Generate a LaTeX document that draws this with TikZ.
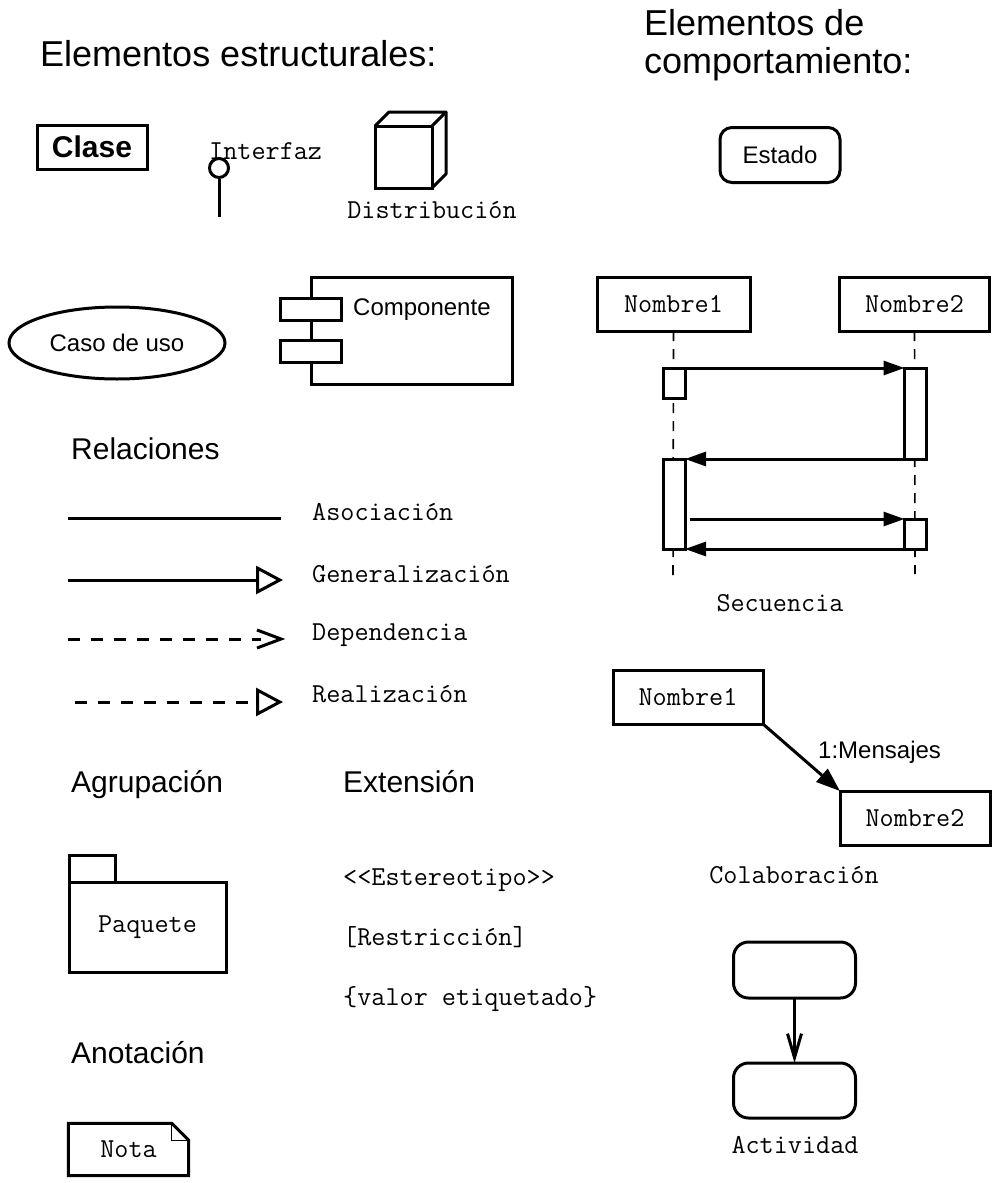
\documentclass[tikz,border=0pt]{standalone}
\usepackage{fontspec}
\setmainfont{Liberation Sans}
\usetikzlibrary{arrows.meta,shapes.geometric}
\newcommand{\fs}[1]{\fontsize{#1}{#1}\selectfont}
\tikzset{
  box/.style={draw, line width=3pt, inner sep=0pt, outer sep=0pt, fill=white},
  mono/.style={font=\ttfamily\fs{27.4}, inner sep=0pt},
  sans/.style={font=\fs{24}, inner sep=0pt},
  head/.style={font=\fs{30}, inner sep=0pt, anchor=base west},
  rel/.style={line width=3pt},
  dashrel/.style={line width=3pt, dash pattern=on 12pt off 11pt},
  lifeline/.style={line width=1.6pt, dash pattern=on 10pt off 8pt},
  opentri/.style={-{Triangle[open,length=27pt,width=28pt,line width=3pt]}},
  barbline/.style={line width=3pt, line join=miter},
  filltri/.style={-{Triangle[length=21pt,width=14pt]}},
}
\begin{document}
\begin{tikzpicture}[x=1pt,y=-1pt]
\useasboundingbox (0,0) rectangle (996,1183);
% headings
\node[font=\fs{36}, inner sep=0pt, anchor=base west] (h1) at (40,66) {Elementos estructurales:};
\node[font=\fs{36}, inner sep=0pt, anchor=base west] (h2a) at (644,35) {Elementos de};
\node[font=\fs{36}, inner sep=0pt, anchor=base west] (h2b) at (644,73) {comportamiento:};

% Clase
\node[box, minimum width=110, minimum height=44, font=\bfseries\fs{30}] (clase) at (92,147) {Clase};

% Interfaz
\node[draw, circle, line width=3pt, minimum size=19, inner sep=0pt] (ifc) at (219,168) {};
\coordinate (ifcend) at (219,217);
\draw[line width=3pt] (ifc.south) -- (ifcend);
\node[mono, anchor=base west] (ifclbl) at (209,159) {Interfaz};

% Distribucion (cube)
\node[box, minimum width=57, minimum height=62] (cube) at (403.5,157) {};
\draw[line width=3pt, line join=round] (cube.north west) -- ++(14,-14) -- ++(57,0) -- (cube.north east);
\draw[line width=3pt, line join=round] (cube.north east) ++(14,-14) -- ++(0,62) -- (cube.south east);
\node[mono, anchor=base] (distlbl) at (432,218) {Distribución};

% Caso de uso
\node[draw, ellipse, line width=3pt, minimum width=216, minimum height=72, font=\fs{24}, inner sep=0pt] (caso) at (117,343) {Caso de uso};

% Componente
\node[box, minimum width=201, minimum height=107] (comp) at (411.5,330.5) {};
\node[box, minimum width=61, minimum height=22] (comp1) at (310.5,309) {};
\node[box, minimum width=61, minimum height=22] (comp2) at (310.5,351.5) {};
\node[sans, anchor=west] (complbl) at (353,310) {Componente};

% Relaciones
\node[head] (hrel) at (71,459) {Relaciones};
\coordinate (as1) at (68,518); \coordinate (as2) at (281,518);
\draw[rel] (as1) -- (as2);
\node[mono, anchor=base west] (aslbl) at (312,520) {Asociación};

\coordinate (ge1) at (68,580); \coordinate (ge2) at (283,580);
\draw[rel, opentri] (ge1) -- (ge2);
\node[mono, anchor=base west] (gelbl) at (312,582) {Generalización};

\coordinate (de1) at (68,639); \coordinate (de2) at (281,639);
\draw[dashrel] (de1) -- ([xshift=-20pt]de2);
\draw[barbline] ([xshift=-24pt,yshift=-9pt]de2) -- (de2) -- ([xshift=-24pt,yshift=9pt]de2);
\node[mono, anchor=base west] (delbl) at (312,640) {Dependencia};

\coordinate (re1) at (75,702); \coordinate (re2) at (283,702);
\draw[dashrel, opentri] (re1) -- (re2);
\node[mono, anchor=base west] (relbl) at (312,702) {Realización};

% Agrupacion
\node[head] (hagr) at (71,792) {Agrupación};
\node[box, minimum width=157, minimum height=90, mono] (pkg) at (147.5,927) {Paquete};
\node[box, anchor=south west, minimum width=46, minimum height=27] (tab) at (pkg.north west) {};

% Extension
\node[head] (hext) at (343,792) {Extensión};
\node[mono, anchor=base west] (est) at (343,885) {<{}<Estereotipo>{}>};
\node[mono, anchor=base west] (res) at (343,945) {[Restricción]};
\node[mono, anchor=base west] (val) at (343,1005) {\{valor etiquetado\}};

% Anotacion
\node[head] (hanot) at (71,1063) {Anotación};
\node[mono, minimum width=120, minimum height=52] (nota) at (128.5,1149.5) {\raisebox{-4pt}{Nota}};
\draw[line width=3pt, line join=miter] (nota.north west) -- ([xshift=-17pt]nota.north east) -- ([yshift=-17pt]nota.north east) -- (nota.south east) -- (nota.south west) -- cycle;
\draw[line width=1.5pt] ([xshift=-17pt]nota.north east) |- ([yshift=-17pt]nota.north east);

% Estado
\node[box, rounded corners=12pt, minimum width=120, minimum height=55, sans] (estado) at (780,155) {Estado};

% Secuencia
\node[box, minimum width=153, minimum height=54, mono] (sn1) at (673.5,304) {Nombre1};
\node[box, minimum width=150, minimum height=54, mono] (sn2) at (914.5,304) {Nombre2};
\coordinate (ll1) at (673,581);
\coordinate (ll2) at (915,574);
\draw[lifeline] (sn1.south) -- (ll1);
\draw[lifeline] (sn2.south) -- (ll2);
\node[box, minimum width=22, minimum height=30] (a1) at (674,383) {};
\node[box, minimum width=22, minimum height=91] (a2) at (915.5,413.5) {};
\node[box, minimum width=22, minimum height=90] (a3) at (674,504) {};
\node[box, minimum width=22, minimum height=30] (a4) at (915.5,534) {};
\draw[line width=3pt, filltri] (a1.north east) -- (a2.north west);
\draw[line width=3pt, filltri] (a2.south west) -- (a3.north east);
\draw[line width=3pt, filltri] ([xshift=5pt]a3.east |- a4.north) -- (a4.north west);
\draw[line width=3pt, filltri] (a4.south west) -- (a3.south east);
\node[mono, anchor=base] (seclbl) at (780,611) {Secuencia};

% Colaboracion
\node[box, minimum width=150, minimum height=54, mono] (cn1) at (688,697) {Nombre1};
\node[box, minimum width=150, minimum height=54, mono] (cn2) at (915,818) {Nombre2};
\draw[line width=3pt, -{Triangle[length=24pt,width=17pt]}] (cn1.south east) -- (cn2.north west);
\node[sans, anchor=base west] (msg) at (818,758) {1:Mensajes};
\node[mono, anchor=base] (collbl) at (794,883) {Colaboración};

% Actividad
\node[box, rounded corners=15pt, minimum width=122, minimum height=56] (act1) at (794.5,970) {};
\node[box, rounded corners=15pt, minimum width=122, minimum height=55] (act2) at (794.5,1090.5) {};
\draw[line width=3pt, -{Straight Barb[length=24pt,width=14pt,line width=3pt]}] (act1.south) -- (act2.north);
\node[mono, anchor=base] (actlbl) at (795,1153) {Actividad};
\end{tikzpicture}
\end{document}
